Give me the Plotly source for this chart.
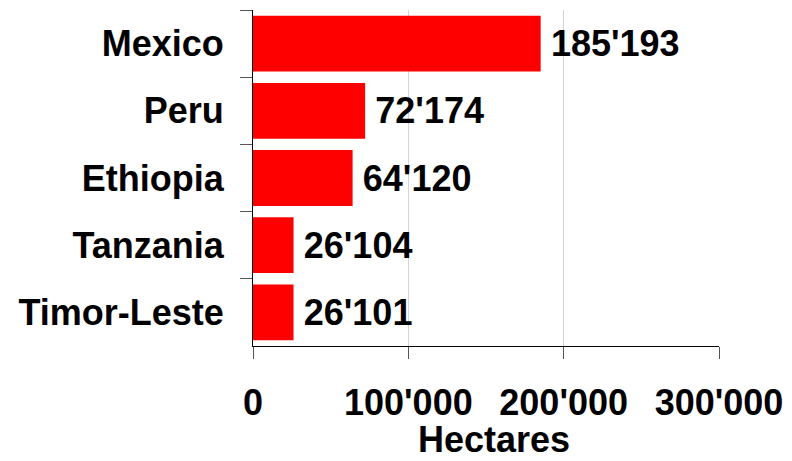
import plotly.graph_objects as go

# Land area by country, in hectares
countries = ["Mexico", "Peru", "Ethiopia", "Tanzania", "Timor-Leste"]
hectares = [185193, 72174, 64120, 26104, 26101]
x_ticks = [0, 100000, 200000, 300000]
x_title = "Hectares"

FONT = "Liberation Sans, Arial, sans-serif"
SIZE = 36


def bold(size=SIZE):
    return dict(family=FONT, size=size, color="black", weight="bold")


fig = go.Figure(
    go.Bar(
        x=hectares,
        y=countries,
        orientation="h",
        marker=dict(color="#FF0000", line=dict(width=0)),
        texttemplate="\u2009%{x:,d}",
        textposition="outside",
        textfont=bold(),
        cliponaxis=False,
    )
)

fig.update_layout(
    width=792,
    height=461,
    margin=dict(l=253, r=73, t=10, b=115),
    paper_bgcolor="white",
    plot_bgcolor="white",
    separators=".'",
    bargap=0.17,
    showlegend=False,
    font=bold(),
)

fig.update_xaxes(
    automargin=False,
    range=[0, 300000],
    tickvals=x_ticks,
    tickformat=",d",
    showgrid=True,
    gridcolor="#D4D4D4",
    gridwidth=1,
    zeroline=False,
    showline=True,
    linecolor="black",
    linewidth=1,
    ticks="outside",
    ticklen=12,
    tickcolor="#555555",
    tickfont=bold(),
    ticklabelstandoff=13,
)

fig.update_yaxes(
    automargin=False,
    type="category",
    categoryorder="array",
    categoryarray=countries,
    autorange="reversed",
    tickson="boundaries",
    ticks="outside",
    ticklen=12,
    tickcolor="#555555",
    showline=True,
    linecolor="black",
    linewidth=1,
    showgrid=False,
    tickfont=bold(),
    ticklabelstandoff=21,
)

# Axis title placed below the tick labels
fig.add_annotation(
    text=x_title,
    xref="paper",
    yref="paper",
    x=0.517,
    y=0,
    xanchor="center",
    yanchor="top",
    yshift=-72,
    borderpad=0,
    showarrow=False,
    font=bold(36),
)

fig.write_html("out.html")
